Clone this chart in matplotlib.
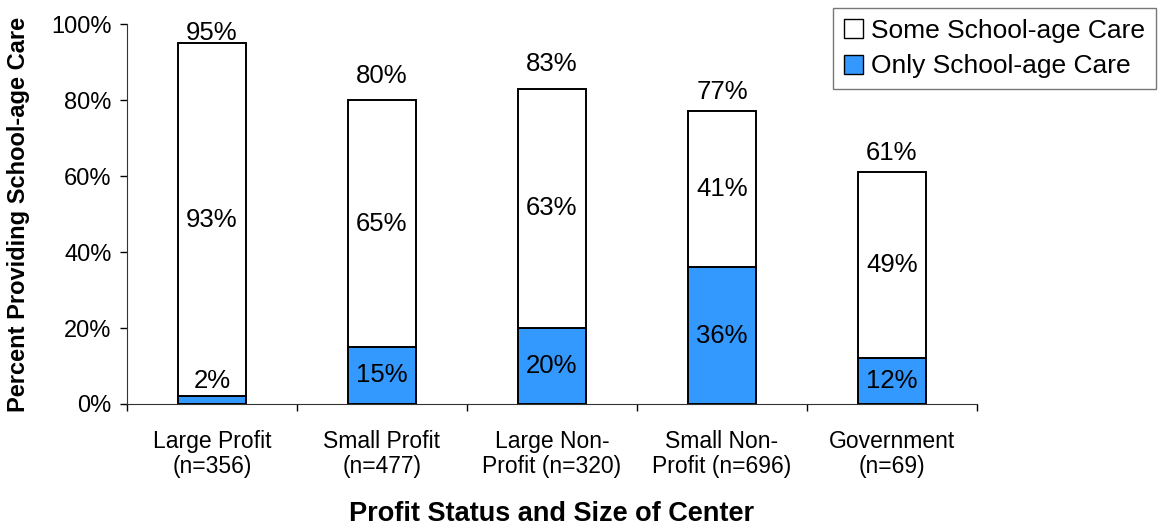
import matplotlib
matplotlib.use("Agg")
import matplotlib.pyplot as plt
import numpy as np
from matplotlib.patches import Patch

plt.rcParams['font.family'] = ['Liberation Sans', 'DejaVu Sans']

categories = ["Large Profit\n(n=356)", "Small Profit\n(n=477)", "Large Non-\nProfit (n=320)",
              "Small Non-\nProfit (n=696)", "Government\n(n=69)"]
only_care = [2, 15, 20, 36, 12]
some_care = [93, 65, 63, 41, 49]
total_care = [95, 80, 83, 77, 61]

# label gaps above bars (points), layout only
total_gap_pt = [2, 12, 12.5, 9, 8.5]

blue = "#3399FF"

fig = plt.figure(figsize=(11.6, 5.29), dpi=100)
ax = fig.add_axes([0.1095, 0.2363, 0.7327, 0.7183])

x = np.arange(len(categories))
w = 0.40
ax.bar(x, only_care, w, color=blue, edgecolor="black", linewidth=1.4, zorder=3)
ax.bar(x, some_care, w, bottom=only_care, color="white", edgecolor="black", linewidth=1.4, zorder=3)

fs = 18.5
for i in range(len(x)):
    ax.annotate(f"{total_care[i]}%", (x[i], total_care[i]), xytext=(0, total_gap_pt[i]),
                textcoords="offset points", ha="center", va="baseline", fontsize=fs)
    ax.text(x[i], only_care[i] + some_care[i] / 2, f"{some_care[i]}%", ha="center", va="center", fontsize=fs)
    if only_care[i] < 5:
        ax.annotate(f"{only_care[i]}%", (x[i], only_care[i]), xytext=(0, 6),
                    textcoords="offset points", ha="center", va="baseline", fontsize=fs)
    else:
        ax.text(x[i], only_care[i] / 2, f"{only_care[i]}%", ha="center", va="center", fontsize=fs)

ax.set_xlim(-0.5, len(x) - 0.5)
ax.set_ylim(0, 100)
ax.set_yticks([0, 20, 40, 60, 80, 100])
ax.set_yticklabels([f"{v}%" for v in [0, 20, 40, 60, 80, 100]], fontsize=17)
ax.tick_params(axis="y", direction="out", length=5, width=1, pad=6, colors="black")

ax.set_xticks(np.arange(-0.5, len(x), 1.0))
ax.set_xticklabels([])
ax.set_xticks(x, minor=True)
ax.set_xticklabels(categories, minor=True, fontsize=16.5, linespacing=1.08)
ax.tick_params(axis="x", which="major", direction="out", length=5, width=1)
ax.tick_params(axis="x", which="minor", length=0, pad=19)

for s in ["top", "right"]:
    ax.spines[s].set_visible(False)
ax.spines["left"].set_color("#333333")
ax.spines["bottom"].set_color("#333333")

ax.set_ylabel("Percent Providing School-age Care", fontsize=17, fontweight="bold", va="center")
ax.yaxis.set_label_coords((18 - 127) / 850, 0.5)
ax.set_xlabel("Profit Status and Size of Center", fontsize=19.5, fontweight="bold", va="center")
ax.xaxis.set_label_coords(0.5, (404 - 514) / 380)

handles = [Patch(facecolor="white", edgecolor="black", label="Some School-age Care"),
           Patch(facecolor=blue, edgecolor="black", label="Only School-age Care")]
leg = fig.legend(handles=handles, loc="upper left", bbox_to_anchor=(833/1160, 1 - 8/529),
                 fontsize=19, frameon=True, fancybox=False, edgecolor="#555555",
                 handlelength=0.75, handleheight=0.75, handletextpad=0.3, borderpad=0.4,
                 labelspacing=0.45, borderaxespad=0)
leg.get_frame().set_linewidth(1)

fig.savefig("out.png", dpi=100)
